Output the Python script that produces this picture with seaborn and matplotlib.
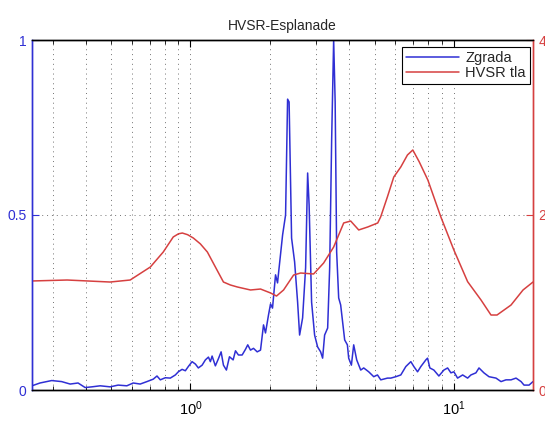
import numpy as np
import pandas as pd
import matplotlib
matplotlib.use("Agg")
import matplotlib.pyplot as plt
import seaborn as sns
from matplotlib.ticker import FixedLocator, NullFormatter, FixedFormatter

sns.set_style("white")
plt.rcParams['font.family'] = ['Liberation Sans', 'DejaVu Sans']
plt.rcParams['mathtext.fontset'] = 'custom'
plt.rcParams['mathtext.rm'] = 'Liberation Sans'
plt.rcParams['mathtext.it'] = 'Liberation Sans:italic'
plt.rcParams['mathtext.bf'] = 'Liberation Sans:bold'

# ---- data: building spectrum (left axis) ----
freq_bld = [0.25, 0.268, 0.297, 0.324, 0.349, 0.374, 0.398, 0.422, 0.454, 0.495,
            0.531, 0.573, 0.606, 0.644, 0.683, 0.722, 0.746, 0.768, 0.802, 0.838,
            0.876, 0.899, 0.929, 0.956, 0.981, 1.014, 1.044, 1.071, 1.107, 1.139,
            1.170, 1.190, 1.208, 1.243, 1.276, 1.307, 1.334, 1.369, 1.406, 1.452,
            1.482, 1.521, 1.571, 1.617, 1.650, 1.690, 1.735, 1.792, 1.845, 1.894,
            1.927, 1.978, 2.014, 2.049, 2.104, 2.141, 2.160, 2.238, 2.297, 2.338,
            2.369, 2.421, 2.486, 2.552, 2.597, 2.666, 2.737, 2.786, 2.822, 2.884,
            2.961, 3.040, 3.121, 3.176, 3.232, 3.319, 3.378, 3.437, 3.498, 3.544,
            3.591, 3.655, 3.719, 3.785, 3.852, 3.944, 3.989, 4.085, 4.168, 4.279,
            4.432, 4.550, 4.753, 4.967, 5.131, 5.282, 5.601, 5.766, 6.024, 6.293,
            6.576, 6.871, 7.054, 7.286, 7.499, 7.834, 7.953, 8.114, 8.403, 8.780,
            9.173, 9.476, 9.754, 10.01, 10.34, 10.81, 11.29, 11.62, 12.14, 12.47,
            13.02, 13.61, 14.47, 15.12, 15.79, 16.50, 17.24, 18.02, 18.49, 19.32,
            20.0]
amp_bld = [0.012, 0.020, 0.027, 0.024, 0.017, 0.020, 0.007, 0.009, 0.012, 0.009,
           0.014, 0.012, 0.020, 0.017, 0.024, 0.031, 0.040, 0.029, 0.035, 0.034,
           0.043, 0.052, 0.059, 0.055, 0.067, 0.081, 0.074, 0.063, 0.071, 0.086,
           0.094, 0.081, 0.097, 0.069, 0.089, 0.109, 0.071, 0.057, 0.095, 0.086,
           0.112, 0.100, 0.100, 0.116, 0.129, 0.114, 0.119, 0.109, 0.114, 0.186,
           0.163, 0.214, 0.246, 0.234, 0.329, 0.306, 0.334, 0.443, 0.500, 0.831,
           0.823, 0.434, 0.366, 0.251, 0.157, 0.206, 0.349, 0.620, 0.529, 0.251,
           0.157, 0.123, 0.109, 0.091, 0.157, 0.177, 0.349, 0.714, 1.000, 0.823,
           0.394, 0.263, 0.243, 0.194, 0.143, 0.129, 0.091, 0.071, 0.129, 0.086,
           0.057, 0.063, 0.052, 0.038, 0.043, 0.029, 0.034, 0.034, 0.038, 0.043,
           0.067, 0.081, 0.067, 0.052, 0.067, 0.086, 0.091, 0.063, 0.057, 0.040,
           0.057, 0.063, 0.049, 0.052, 0.034, 0.043, 0.034, 0.043, 0.049, 0.063,
           0.049, 0.038, 0.034, 0.024, 0.029, 0.029, 0.034, 0.024, 0.014, 0.014,
           0.024]

# ---- data: soil HVSR (right axis) ----
freq_soil = [0.25, 0.340, 0.495, 0.590, 0.704, 0.788, 0.860, 0.900, 0.931, 0.975,
             1.025, 1.090, 1.159, 1.243, 1.334, 1.418, 1.508, 1.690, 1.845, 2.014,
             2.122, 2.257, 2.464, 2.620, 2.935, 3.204, 3.498, 3.819, 4.060, 4.355,
             4.712, 5.143, 5.280, 5.600, 5.918, 6.293, 6.670, 6.990, 7.390, 7.973,
             8.935, 10.01, 11.29, 12.69, 13.85, 14.60, 16.50, 18.33, 20.0]
hvsr_soil = [1.246, 1.257, 1.234, 1.257, 1.406, 1.577, 1.749, 1.785, 1.794, 1.775,
             1.737, 1.670, 1.577, 1.406, 1.234, 1.200, 1.177, 1.143, 1.154, 1.109,
             1.074, 1.143, 1.314, 1.337, 1.326, 1.451, 1.634, 1.909, 1.931, 1.829,
             1.863, 1.909, 1.980, 2.209, 2.434, 2.549, 2.686, 2.743, 2.609, 2.400,
             1.977, 1.600, 1.238, 1.029, 0.857, 0.857, 0.971, 1.143, 1.234]

labels = ["Zgrada", "HVSR tla"]
title = "HVSR-Esplanade"

blue = "#2f2fd4"
red = "#d64040"

df_b = pd.DataFrame({"f": freq_bld, "a": amp_bld})
df_s = pd.DataFrame({"f": freq_soil, "h": hvsr_soil})

fig = plt.figure(figsize=(5.45, 4.26), dpi=100)
ax = fig.add_axes([32/545, 1 - 390/426, 501/545, 350/426])
ax.set_xscale('log')
ax2 = ax.twinx()

sns.lineplot(data=df_b, x="f", y="a", ax=ax, color=blue, lw=1.1,
             sort=False, estimator=None, label=labels[0], legend=False)
sns.lineplot(data=df_s, x="f", y="h", ax=ax2, color=red, lw=1.1,
             sort=False, estimator=None, label=labels[1], legend=False)

ax.set_xlim(0.25, 20)
ax.set_ylim(0, 1)
ax2.set_ylim(0, 4)
for a in (ax, ax2):
    a.set_xlabel("")
    a.set_ylabel("")

ax.xaxis.set_major_locator(FixedLocator([1, 10]))
ax.xaxis.set_major_formatter(FixedFormatter([r"$10^0$", r"$10^1$"]))
minors = [0.3, 0.4, 0.5, 0.6, 0.7, 0.8, 0.9, 2, 3, 4, 5, 6, 7, 8, 9, 20]
ax.xaxis.set_minor_locator(FixedLocator(minors))
ax.xaxis.set_minor_formatter(NullFormatter())

ax.set_yticks([0, 0.5, 1])
ax.set_yticklabels(["0", "0.5", "1"])
ax2.set_yticks([0, 2, 4])
ax2.set_yticklabels(["0", "2", "4"])

grid_kw = dict(ls=(0, (1, 4)), color='0.45', lw=0.7)
ax.grid(True, which='both', axis='x', **grid_kw)
ax.grid(True, which='major', axis='y', **grid_kw)

ax.tick_params(axis='x', which='both', direction='in', top=True, bottom=True,
               labelsize=10.5, pad=7, colors='black')
ax.tick_params(axis='x', which='major', length=5, width=0.8)
ax.tick_params(axis='x', which='minor', length=3, width=0.6)
ax.tick_params(axis='y', which='major', direction='in', left=True, right=False,
               length=5, width=0.8, color=blue, labelcolor=blue, labelsize=10, pad=4)
ax2.tick_params(axis='y', which='major', direction='in', right=True, left=False,
                length=5, width=0.8, color=red, labelcolor=red, labelsize=10, pad=4)

for a in (ax, ax2):
    for s in a.spines.values():
        s.set_visible(True)
        s.set_linewidth(1.0)
    a.spines['top'].set_color('black')
    a.spines['bottom'].set_color('black')
    a.spines['left'].set_color(blue)
    a.spines['right'].set_color(red)

ax.set_title(title, fontsize=10, pad=7)

h1, l1 = ax.get_legend_handles_labels()
h2, l2 = ax2.get_legend_handles_labels()
leg = ax2.legend(h1 + h2, l1 + l2, loc='upper right', bbox_to_anchor=(0.994, 0.98),
                 fontsize=10.5, frameon=True, fancybox=False, edgecolor='black',
                 framealpha=1, handlelength=3.6, handletextpad=0.45,
                 labelspacing=0.05, borderpad=0.3, borderaxespad=0)
leg.get_frame().set_linewidth(0.8)

fig.savefig("out.png", dpi=100)
